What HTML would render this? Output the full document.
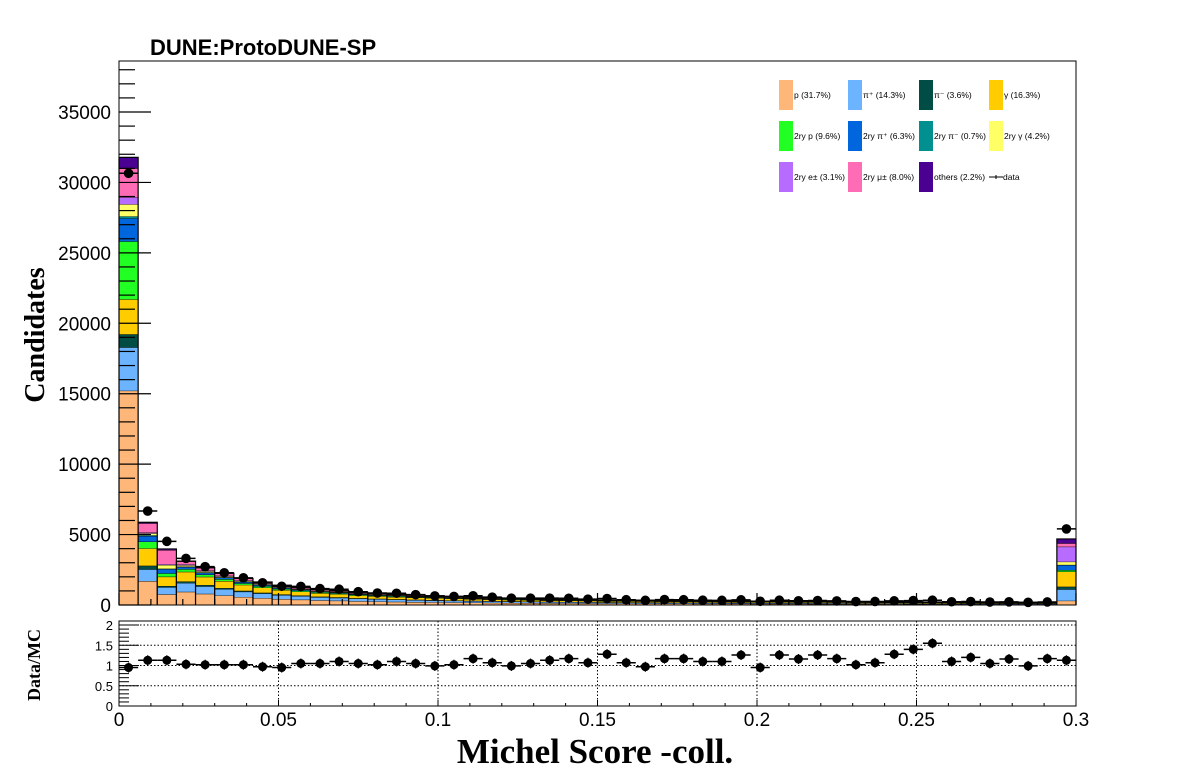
<!DOCTYPE html>
<html><head><meta charset="utf-8"><style>
body{margin:0;background:#fff;}
svg{display:block;}
text{font-family:"Liberation Sans",sans-serif;}
</style></head><body>
<svg id="c" width="1196" height="772" xmlns="http://www.w3.org/2000/svg">
<rect x="0" y="0" width="1196" height="772" fill="#fff"/>
<g id="main"></g>
<g id="ratio"></g>
<text x="150" y="55" font-size="22" font-weight="bold">DUNE:ProtoDUNE-SP</text>
<text transform="translate(44,335) rotate(-90)" text-anchor="middle" font-size="28" font-weight="bold" style="font-family:'Liberation Serif',serif">Candidates</text>
<text transform="translate(40,665) rotate(-90)" text-anchor="middle" font-size="18" font-weight="bold" style="font-family:'Liberation Serif',serif">Data/MC</text>
<text x="595" y="763" text-anchor="middle" font-size="35" font-weight="bold" style="font-family:'Liberation Serif',serif">Michel Score -coll.</text>
<g id="legend"></g>
</svg>
<script>
const seriesNames = ["p (31.7%)","\u03c0\u207a (14.3%)","\u03c0\u207b (3.6%)","\u03b3 (16.3%)","2ry p (9.6%)","2ry \u03c0\u207a (6.3%)","2ry \u03c0\u207b (0.7%)","2ry \u03b3 (4.2%)","2ry e\u00b1 (3.1%)","2ry \u03bc\u00b1 (8.0%)","others (2.2%)"];
const seriesColors = ["#ffb779","#6cb4ff","#004d46","#ffcc00","#22ff22","#0066dd","#009090","#ffff66","#b76cff","#ff6cb6","#4a0090"];
const sP   = [15210,1700,760,936,795,675,567,489,420,378,333,306,270,249,228,210,195,180,168,156,147,138,129,123,117,108,105,102,99,96,93,90,87,84,81,78,77,75,72,71,69,68,66,63,62,60,59,57,56,300];
const sPip = [3080,830,500,624,530,450,378,326,280,252,222,204,180,166,152,140,130,120,112,104,98,92,86,82,78,72,70,68,66,64,62,60,58,56,54,52,51,50,48,47,46,45,44,42,41,40,39,38,37,810];
const sPim = [930,260,90,109,93,79,66,57,49,44,39,36,32,29,27,25,23,21,20,18,17,16,15,14,14,13,12,12,12,11,11,11,10,10,9,9,9,9,8,8,8,8,8,7,7,7,7,7,6,190];
const sGam = [2480,1230,660,686,583,495,416,359,308,277,244,224,198,183,167,154,143,132,123,114,108,101,95,90,86,79,77,75,73,70,68,66,64,62,59,57,56,55,53,52,51,50,48,46,45,44,43,42,41,1070];
const sP2  = [4120,480,240,187,159,135,113,98,84,76,67,61,54,50,46,42,39,36,34,31,29,28,26,25,23,22,21,20,20,19,19,18,17,17,16,16,15,15,14,14,14,14,13,13,12,12,12,11,11,110];
const sPip2= [1630,400,300,156,133,113,95,82,70,63,56,51,45,42,38,35,33,30,28,26,25,23,22,21,20,18,18,17,17,16,16,15,15,14,14,13,13,13,12,12,12,11,11,11,10,10,10,10,9,360];
const sPim2= [140,50,30,31,27,23,19,16,14,13,11,10,9,8,8,7,7,6,6,5,5,5,4,4,4,4,4,3,3,3,3,3,3,3,3,3,3,3,2,2,2,2,2,2,2,2,2,2,2,10];
const sGam2= [860,140,260,94,80,68,57,49,42,38,33,31,27,25,23,21,20,18,17,16,15,14,13,12,12,11,11,10,10,10,9,9,9,8,8,8,8,8,7,7,7,7,7,6,6,6,6,6,6,220];
const sE2  = [490,60,60,62,53,45,38,33,28,25,22,20,18,17,15,14,13,12,11,10,10,9,9,8,8,7,7,7,7,6,6,6,6,6,5,5,5,5,5,5,5,5,4,4,4,4,4,4,4,1070];
const sMu2 = [2060,650,1000,203,172,146,123,106,91,82,72,66,59,54,49,46,42,39,36,34,32,30,28,27,25,23,23,22,21,21,20,20,19,18,18,17,17,16,16,15,15,15,14,14,13,13,13,12,12,240];
const sOth = [780,70,80,31,27,23,19,16,14,13,11,10,9,8,8,7,7,6,6,5,5,5,4,4,4,4,4,3,3,3,3,3,3,3,3,3,3,3,2,2,2,2,2,2,2,2,2,2,2,310];
const dataCounts = [30650,6670,4520,3310,2720,2290,1930,1580,1330,1320,1165,1120,945,850,835,735,645,610,655,555,485,485,485,480,415,460,375,330,385,375,340,330,365,265,340,300,320,290,245,250,295,315,340,230,245,210,225,190,215,5400];
const ratioVals = [0.95,1.13,1.13,1.03,1.02,1.02,1.02,0.97,0.95,1.05,1.05,1.10,1.05,1.02,1.10,1.05,0.99,1.02,1.17,1.07,0.99,1.05,1.13,1.17,1.07,1.28,1.07,0.97,1.17,1.17,1.10,1.10,1.26,0.95,1.26,1.16,1.26,1.17,1.02,1.07,1.28,1.40,1.55,1.10,1.20,1.05,1.16,0.99,1.17,1.13];
const mainYTicks = [0,5000,10000,15000,20000,25000,30000,35000];
const ratioYTicks = [0,0.5,1,1.5,2];
const xTicks = [0,0.05,0.1,0.15,0.2,0.25,0.3];
const xTickLabels = ["0","0.05","0.1","0.15","0.2","0.25","0.3"];

const NS="http://www.w3.org/2000/svg";
const stacks=[sP,sPip,sPim,sGam,sP2,sPip2,sPim2,sGam2,sE2,sMu2,sOth];
const X0=119,X1=1076, XMIN=0, XMAX=0.3, NB=50, BW=0.006;
const MY0=605, MY1=61, YMAXV=(605-61)/((605-112)/35000);
const RY0=706, RY1=621, RMAX=2.1;
const xs=v=>X0+(v-XMIN)/(XMAX-XMIN)*(X1-X0);
const ys=v=>MY0-v/YMAXV*(MY0-MY1);
const yr=v=>RY0-v/RMAX*(RY0-RY1);
function mk(tag,attrs,parent){const e=document.createElementNS(NS,tag);for(const k in attrs)e.setAttribute(k,attrs[k]);parent.appendChild(e);return e;}
const main=document.getElementById('main'), ratio=document.getElementById('ratio'), leg=document.getElementById('legend');

for(let b=0;b<NB;b++){
  let cum=0;
  const xa=xs(b*BW), xb=xs((b+1)*BW);
  for(let s=0;s<stacks.length;s++){
    const v=stacks[s][b]||0; const y0=ys(cum), y1=ys(cum+v); cum+=v;
    const r=mk('rect',{x:xa,y:y1,width:xb-xa,height:Math.max(0,y0-y1),fill:seriesColors[s]},main);
    
    
    const l=mk('line',{x1:xa,x2:xb,y1:y1,y2:y1,stroke:'#000','stroke-width':0.8},main);
    
    
  }
  const yt=ys(cum);
  const o=mk('path',{d:`M${xa},${MY0}V${yt}H${xb}V${MY0}`,fill:'none',stroke:'#000','stroke-width':1.2},main);
  
  
}
for(let b=0;b<NB;b++){
  const xa=xs(b*BW), xb=xs((b+1)*BW), xc=(xa+xb)/2, y=ys(dataCounts[b]);
  const e=Math.sqrt(dataCounts[b]);
  const g=mk('g',{},main);
  
  
  mk('line',{x1:xa,x2:xb,y1:y,y2:y,stroke:'#000','stroke-width':1.5},g);
  mk('line',{x1:xc,x2:xc,y1:ys(dataCounts[b]+e),y2:ys(dataCounts[b]-e),stroke:'#000','stroke-width':1.5},g);
  mk('circle',{cx:xc,cy:y,r:4.8,fill:'#000'},g);
}
const fr=mk('rect',{x:X0,y:MY1,width:X1-X0,height:MY0-MY1,fill:'none',stroke:'#000','stroke-width':1},main);


for(let v=0;v<=38000;v+=1000){
  const major=mainYTicks.includes(v); const y=ys(v);
  mk('line',{x1:X0,x2:X0+(major?32:16),y1:y,y2:y,stroke:'#000','stroke-width':1.2},main);
}
mainYTicks.forEach(v=>{
  const t=mk('text',{x:111,y:ys(v)+7,'text-anchor':'end','font-size':19},main);
  t.textContent=v;
  
  
});
for(let i=0;i<=30;i++){
  const v=i*0.01, major=i%5===0, x=xs(v);
  mk('line',{x1:x,x2:x,y1:MY0,y2:MY0-(major?12:6),stroke:'#000','stroke-width':1.2},main);
  mk('line',{x1:x,x2:x,y1:RY0,y2:RY0-(major?6:3),stroke:'#000','stroke-width':1},ratio);
}
const rf=mk('rect',{x:X0,y:RY1,width:X1-X0,height:RY0-RY1,fill:'none',stroke:'#000','stroke-width':1},ratio);


ratioYTicks.forEach(v=>{
  if(v>0) mk('line',{x1:X0,x2:X1,y1:yr(v),y2:yr(v),stroke:'#000','stroke-width':1,'stroke-dasharray':'1.5,2'},ratio);
  const t=mk('text',{x:113,y:yr(v)+5,'text-anchor':'end','font-size':13},ratio);
  t.textContent=v;
  
  
});
for(let v=0;v<=2.0001;v+=0.1){const y=yr(v);const maj=Math.abs(v*2-Math.round(v*2))<1e-6;mk('line',{x1:X0,x2:X0+(maj?20:10),y1:y,y2:y,stroke:'#000','stroke-width':1},ratio);}
xTicks.forEach((v,i)=>{
  if(i>0&&i<xTicks.length-1) mk('line',{x1:xs(v),x2:xs(v),y1:RY1,y2:RY0,stroke:'#000','stroke-width':1,'stroke-dasharray':'1.5,2'},ratio);
  const t=mk('text',{x:xs(v),y:726,'text-anchor':'middle','font-size':19},ratio);
  t.textContent=xTickLabels[i];
  
  
});
for(let b=0;b<NB;b++){
  const xa=xs(b*BW), xb=xs((b+1)*BW), xc=(xa+xb)/2, y=yr(ratioVals[b]);
  const g=mk('g',{},ratio);
  
  
  mk('line',{x1:xa,x2:xb,y1:y,y2:y,stroke:'#000','stroke-width':1.5},g);
  mk('line',{x1:xc,x2:xc,y1:y-5,y2:y+5,stroke:'#000','stroke-width':1.2},g);
  mk('circle',{cx:xc,cy:y,r:4.5,fill:'#000'},g);
}
const colX=[779,848,919,989], rowY=[80,121,162];
seriesNames.forEach((n,i)=>{
  const x=colX[i%4], y=rowY[Math.floor(i/4)];
  const g=mk('g',{},leg);
  
  
  mk('rect',{x:x,y:y,width:14,height:30,fill:seriesColors[i]},g);
  const t=mk('text',{x:x+15,y:y+18,'font-size':8.5},g);
  t.textContent=n;
});
const dg=mk('g',{},leg);


mk('line',{x1:989,x2:1003,y1:177,y2:177,stroke:'#000','stroke-width':1},dg);
mk('line',{x1:996,x2:996,y1:175,y2:179,stroke:'#000','stroke-width':1},dg);
const dt=mk('text',{x:1003,y:180,'font-size':8.5},dg);dt.textContent='data';
</script>
</body></html>
